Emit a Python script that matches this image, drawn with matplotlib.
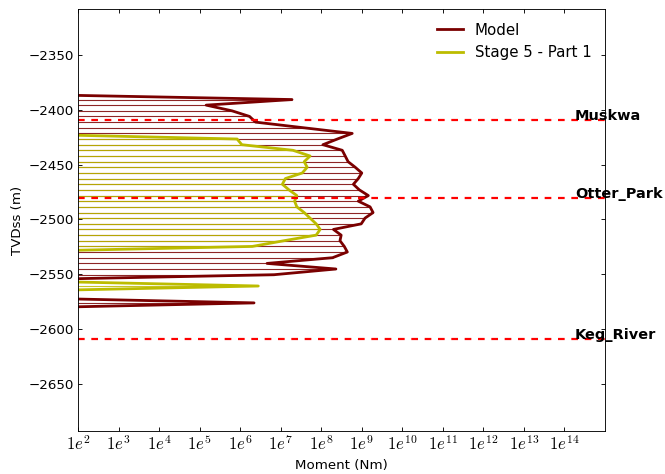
import numpy as np
import matplotlib
matplotlib.use("Agg")
import matplotlib.pyplot as plt
from matplotlib.ticker import FixedLocator, MultipleLocator, NullLocator

plt.rcParams['font.size'] = 12
plt.rcParams['mathtext.fontset'] = 'cm'
plt.rcParams['lines.scale_dashes'] = False

# Depth bins (TVDss, m) and summed seismic moment per bin (Nm)
depth = [-2385.4, -2390.6, -2395.7, -2400.9, -2406.0, -2411.2, -2416.3, -2421.5,
         -2426.6, -2431.8, -2436.9, -2442.1, -2447.3, -2452.4, -2457.6, -2462.7,
         -2467.9, -2473.0, -2478.2, -2483.3, -2488.5, -2493.7, -2498.8, -2504.0,
         -2509.1, -2514.3, -2519.4, -2524.6, -2529.7, -2534.9, -2540.1, -2545.2,
         -2550.4, -2555.5, -2560.7, -2565.8, -2571.0, -2576.1, -2581.3]

model_moment = [0, 1.9e7, 1.45e5, 6.3e5, 1.7e6, 2.4e6, 3.6e7, 5.8e8,
                2.5e8, 1.1e8, 3.3e8, 3.9e8, 4.6e8, 6.9e8, 1.0e9, 8.2e8,
                6.2e8, 8.7e8, 1.45e9, 8.2e8, 1.6e9, 1.9e9, 1.2e9, 9.7e8,
                2.0e8, 3.1e8, 2.9e8, 3.7e8, 4.4e8, 1.9e8, 4.6e6, 2.3e8,
                6.9e6, 0, 0, 0, 0, 2.2e6, 0]

stage_moment = [0, 0, 0, 0, 0, 0, 0, 0,
                8.4e5, 1.1e6, 2.0e7, 5.3e7, 3.8e7, 4.5e7, 3.4e7, 1.3e7,
                1.1e7, 1.6e7, 2.5e7, 2.2e7, 2.5e7, 3.8e7, 5.3e7, 7.5e7,
                9.4e7, 7.5e7, 1.2e7, 2.0e6, 0, 0, 0, 0,
                0, 0, 2.8e6, 0, 0, 0, 0]

tops_name = ['Muskwa', 'Otter_Park', 'Keg_River']
tops_depth = [-2409.0, -2480.0, -2609.5]

decades = list(range(2, 15))
xmin, xmax = 1e2, 1e15


def plot_profile(ax, moment, color, label):
    d = np.asarray(depth)
    m = np.asarray(moment, dtype=float)
    nonzero = m > 0
    # thin bars from the left edge out to each bin's moment
    ax.hlines(d[nonzero], xmin, m[nonzero], colors=color, lw=1.0, alpha=0.85)
    # empty bins are drawn at 1 Nm so the log axis keeps them
    ax.plot(np.where(nonzero, m, 1.0), d, color=color, lw=2.5, label=label)


fig = plt.figure(figsize=(665 / 80, 474 / 80), dpi=80)
ax = fig.add_axes([0.1173, 0.0907, 0.7925, 0.8903])
ax.set_xscale('log')

plot_profile(ax, model_moment, '#7a0000', 'Model')
plot_profile(ax, stage_moment, '#bcbc00', 'Stage 5 - Part 1')

for name, d in zip(tops_name, tops_depth):
    ax.axhline(d, color='red', ls='--', dashes=(6, 6), lw=2)
    ax.text(1.8e14, d, name, fontsize=13, fontweight='bold',
            va='baseline', ha='left')

ax.set_xlim(xmin, xmax)
ax.set_ylim(-2693, -2308)
ax.xaxis.set_major_locator(FixedLocator([10.0 ** k for k in decades]))
ax.set_xticklabels([r'$1e^{%d}$' % k for k in decades], fontsize=15)
ax.xaxis.set_minor_locator(NullLocator())
ax.yaxis.set_major_locator(MultipleLocator(50))
ax.yaxis.set_minor_locator(NullLocator())
ax.tick_params(direction='in', top=True, right=True, length=4)

ax.set_xlabel('Moment (Nm)')
ax.set_ylabel('TVDss (m)')
ax.legend(loc='upper right', frameon=False, handlelength=1.75, fontsize=13.5)

fig.savefig('out.png', dpi=80)
